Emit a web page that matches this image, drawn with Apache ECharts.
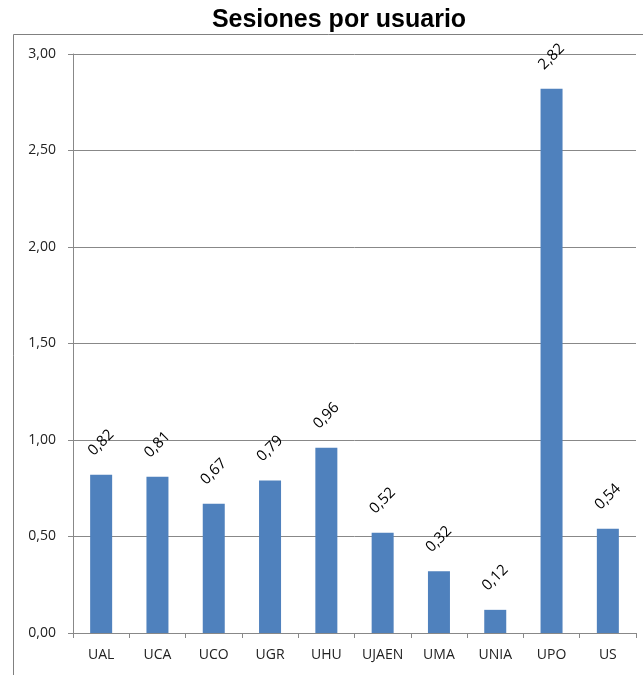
<!DOCTYPE html>
<html>
<head>
<meta charset="utf-8">
<script src="https://cdn.jsdelivr.net/npm/echarts@6/dist/echarts.min.js"></script>
<style>
html,body{margin:0;padding:0;background:#fff;}
#chart{width:643px;height:675px;}
</style>
</head>
<body>
<div id="chart"></div>
<script>
var categories = ['UAL','UCA','UCO','UGR','UHU','UJAEN','UMA','UNIA','UPO','US'];
var values = [0.82, 0.81, 0.67, 0.79, 0.96, 0.52, 0.32, 0.12, 2.82, 0.54];
var yTicks = [0, 0.5, 1, 1.5, 2, 2.5, 3];

function fmt(v){ return v.toFixed(2).replace('.', ','); }

var FONT = '"Open Sans", sans-serif';

var chart = echarts.init(document.getElementById('chart'), null, {renderer:'canvas'});
chart.setOption({
  animation:false,
  backgroundColor:'#ffffff',
  title:{
    text:'Sesiones por usuario',
    left:334, top:3, textAlign:'center',
    textStyle:{fontFamily:'Liberation Sans, Arial, sans-serif', fontWeight:'bold', fontSize:25, color:'#000'}
  },
  graphic:[{
    type:'rect', z:-1, silent:true,
    shape:{x:13.5, y:34.5, width:700, height:700},
    style:{fill:'none', stroke:'#808080', lineWidth:1}
  }],
  grid:{left:73, right:7, top:54, bottom:42},
  xAxis:{
    type:'category', data:categories,
    axisLine:{lineStyle:{color:'#888888'}},
    axisTick:{show:true, length:5, lineStyle:{color:'#888888'}},
    axisLabel:{interval:0, color:'#222', fontFamily:FONT, fontSize:14, margin:15}
  },
  yAxis:{
    type:'value', min:0, max:3, interval:0.5,
    axisLine:{show:true, lineStyle:{color:'#888888'}},
    axisTick:{show:true, length:5, lineStyle:{color:'#888888'}},
    splitLine:{lineStyle:{color:'#888888'}},
    axisLabel:{color:'#222', fontFamily:FONT, fontSize:14, margin:17,
      formatter:function(v){ return fmt(v); }}
  },
  series:[{
    type:'bar', data:values, barWidth:22,
    itemStyle:{color:'#4F81BD'},
    label:{
      show:true, position:'top', distance:32, rotate:45,
      align:'center', verticalAlign:'middle',
      color:'#000', fontFamily:FONT, fontSize:15,
      formatter:function(p){ return fmt(p.value); }
    }
  }]
});
</script>
</body>
</html>
